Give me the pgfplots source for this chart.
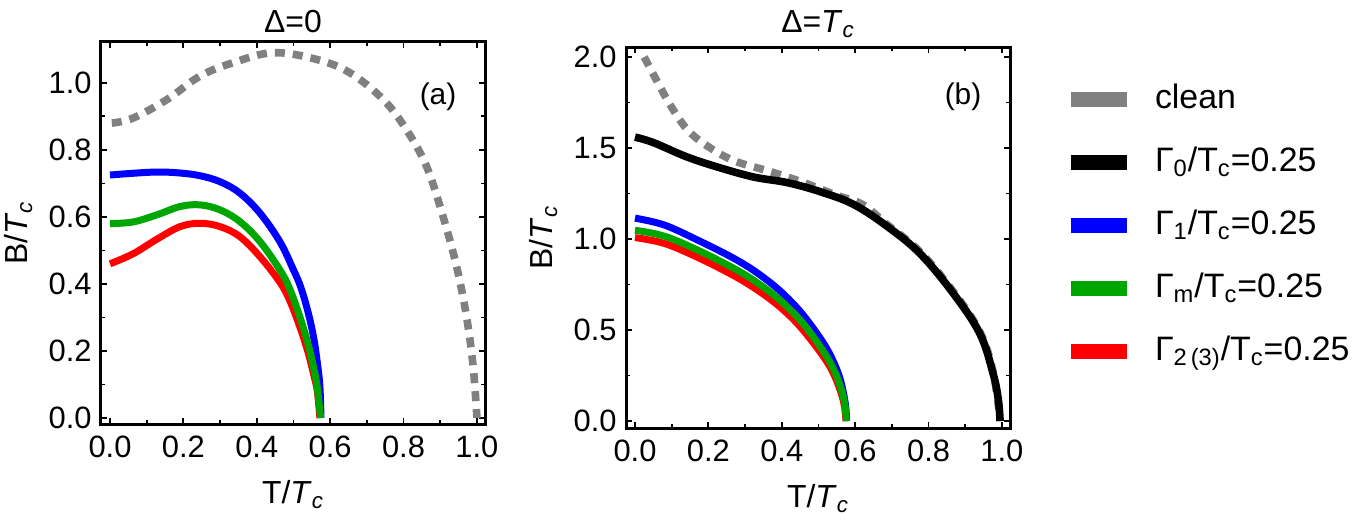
\documentclass[border=0pt]{standalone}
\usepackage{pgfplots}
\pgfplotsset{compat=1.18}
\usepackage{fontspec}
\setmainfont{Liberation Sans}
\definecolor{cgray}{RGB}{128,128,128}
\definecolor{cblue}{RGB}{0,0,255}
\definecolor{cgreen}{RGB}{0,166,0}
\definecolor{cred}{RGB}{255,0,0}
\pgfplotsset{
 panel/.style={
  scale only axis, width=192bp,
  xmin=-0.0245, xmax=1.022,
  axis line style={line width=1.5bp},
  tick style={black, line width=0.9bp},
  major tick length=3bp, minor tick length=2bp,
  minor tick num=1,
  xtick={0,0.2,0.4,0.6,0.8,1.0},
  tick align=inside,
  /pgf/number format/assume math mode=true,
  xticklabel style={/pgf/number format/.cd, fixed, fixed zerofill, precision=1},
  yticklabel style={/pgf/number format/.cd, fixed, fixed zerofill, precision=1},
  tick label style={font=\fontsize{15.5}{18}\selectfont, inner sep=0pt},
  xticklabel shift=6bp, yticklabel shift=4.5bp,
  every axis x label/.style={at={(axis description cs:0.5,0)}, anchor=base, yshift=-39.5bp, font=\fontsize{16}{19}\selectfont},
  every axis y label/.style={at={(axis description cs:-0.1927,0.5)}, anchor=base, rotate=90, font=\fontsize{16}{19}\selectfont},
  xlabel={T/\textit{T}\textsubscript{\textit{c}}},
  ylabel={B/\textit{T}\textsubscript{\textit{c}}},
  clip=true,
 },
 curve/.style={line width=3.5bp, smooth, tension=0.6, forget plot},
 cleanc/.style={line width=3.8bp, color=cgray, dash pattern=on 5bp off 4bp, smooth, tension=0.6, forget plot},
}
\begin{document}
\begin{tikzpicture}
\useasboundingbox (0,0) rectangle (680bp,260bp);
% ---------------- panel (a)
\begin{axis}[panel, name=pa, at={(50.5bp,48bp)}, anchor=south west, height=191bp,
  ymin=-0.018, ymax=1.122, ytick={0,0.2,0.4,0.6,0.8,1.0}]
\addplot[cleanc] coordinates {(0.005,0.88) (0.063,0.895) (0.155,0.95) (0.245,1.02) (0.335,1.06) (0.445,1.09) (0.563,1.07) (0.654,1.03) (0.745,0.95) (0.808,0.86) (0.863,0.75) (0.908,0.60) (0.945,0.45) (0.972,0.30) (0.99,0.15) (1.0,0.0)};
\addplot[curve, cblue] coordinates {(0,0.725) (0.06,0.73) (0.13,0.734) (0.191,0.731) (0.245,0.723) (0.30,0.705) (0.354,0.671) (0.409,0.611) (0.463,0.526) (0.50,0.442) (0.52,0.39) (0.54,0.315) (0.555,0.24) (0.565,0.165) (0.572,0.095) (0.575,0)};
\addplot[curve, cred] coordinates {(0,0.46) (0.063,0.49) (0.13,0.535) (0.191,0.571) (0.245,0.581) (0.30,0.571) (0.354,0.541) (0.409,0.481) (0.463,0.405) (0.49,0.35) (0.518,0.27) (0.54,0.195) (0.555,0.13) (0.565,0.08) (0.572,0)};
\addplot[curve, cgreen] coordinates {(0,0.58) (0.063,0.585) (0.13,0.607) (0.191,0.631) (0.245,0.636) (0.30,0.621) (0.354,0.586) (0.409,0.526) (0.463,0.442) (0.49,0.385) (0.518,0.30) (0.54,0.22) (0.555,0.15) (0.565,0.09) (0.574,0)};
\node[font=\fontsize{15}{18}\selectfont] at (axis cs:0.894,0.958) {(a)};
\end{axis}
% ---------------- panel (b)
\begin{axis}[panel, name=pb, at={(313bp,46bp)}, anchor=south west, height=190.5bp,
  ymin=-0.038, ymax=2.055, ytick={0,0.5,1.0,1.5,2.0},
  legend image code/.code={\draw[#1, line width=7.5bp] (0bp,0bp) -- (28bp,0bp);},
  legend style={draw=none, fill=none, at={(rel axis cs:1.138,0.9055)}, anchor=north west,
    inner sep=0pt, outer sep=0pt, row sep=15bp, column sep=10.5bp,
    nodes={inner sep=0pt, text height=12.5bp, text depth=4bp, font=\fontsize{17}{20}\selectfont}},
  legend cell align=left]
\addplot[cleanc] coordinates {(0.025,2.0) (0.062,1.86) (0.098,1.73) (0.143,1.60) (0.198,1.51) (0.27,1.43) (0.37,1.37) (0.46,1.31) (0.55,1.24) (0.62,1.19) (0.687,1.08) (0.777,0.93) (0.868,0.71) (0.94,0.49) (0.976,0.27) (0.995,0)};
\addplot[curve, black, line width=3.8bp] coordinates {(0,1.56) (0.05,1.53) (0.143,1.45) (0.234,1.39) (0.325,1.34) (0.415,1.31) (0.505,1.26) (0.596,1.19) (0.687,1.07) (0.777,0.92) (0.868,0.70) (0.94,0.48) (0.976,0.26) (0.99,0.12) (0.995,0)};
\addplot[curve, cblue] coordinates {(0,1.115) (0.08,1.077) (0.17,0.995) (0.261,0.903) (0.32,0.832) (0.38,0.742) (0.43,0.647) (0.469,0.555) (0.514,0.427) (0.54,0.33) (0.56,0.225) (0.573,0.098) (0.577,0)};
\addplot[curve, cred] coordinates {(0,1.008) (0.08,0.976) (0.17,0.90) (0.261,0.808) (0.32,0.738) (0.38,0.652) (0.43,0.562) (0.469,0.473) (0.514,0.353) (0.54,0.265) (0.56,0.165) (0.571,0.08) (0.575,0)};
\addplot[curve, cgreen] coordinates {(0,1.048) (0.08,1.016) (0.17,0.94) (0.261,0.848) (0.32,0.778) (0.38,0.69) (0.43,0.598) (0.469,0.509) (0.514,0.381) (0.54,0.29) (0.56,0.189) (0.572,0.09) (0.576,0)};
\node[font=\fontsize{15}{18}\selectfont] at (axis cs:0.894,1.78) {(b)};
\addlegendimage{cgray}
\addlegendentry{clean}
\addlegendimage{black}
\addlegendentry{Γ\textsubscript{0}/T\textsubscript{c}=0.25}
\addlegendimage{cblue}
\addlegendentry{Γ\textsubscript{1}/T\textsubscript{c}=0.25}
\addlegendimage{cgreen}
\addlegendentry{Γ\textsubscript{m}/T\textsubscript{c}=0.25}
\addlegendimage{cred}
\addlegendentry{Γ\textsubscript{2\,(3)}/T\textsubscript{c}=0.25}
\end{axis}
\node[anchor=base, inner sep=0pt, font=\fontsize{16}{19}\selectfont] at ([yshift=4.5bp]pa.north) {Δ=0};
\node[anchor=base, inner sep=0pt, font=\fontsize{16}{19}\selectfont] at ([yshift=7.5bp]pb.north) {Δ=\textit{T}\textsubscript{\textit{c}}};
\end{tikzpicture}
\end{document}
